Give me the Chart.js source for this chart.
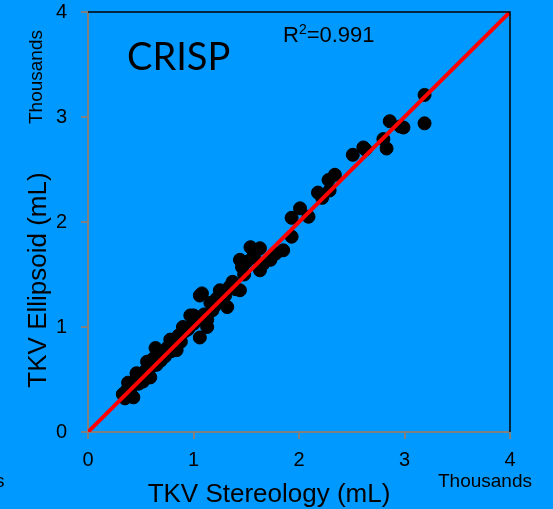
<!DOCTYPE html>
<html>
<head>
<meta charset="utf-8">
<script src="https://cdn.jsdelivr.net/npm/chart.js@4/dist/chart.umd.min.js"></script>
<style>
  html, body { margin: 0; padding: 0; background: #0099ff; }
  #wrap { width: 553px; height: 509px; position: relative; }
</style>
</head>
<body>
<div id="wrap"><canvas id="crispChart" width="553" height="509"></canvas></div>
<script>
// TKV stereology (x) vs TKV ellipsoid (y), in thousands of mL
const stereoX = [0.33, 0.35, 0.37, 0.38, 0.40, 0.42, 0.43, 0.45, 0.46, 0.48, 0.50, 0.52, 0.54, 0.56, 0.57, 0.59,
  0.60, 0.62, 0.64, 0.65, 0.67, 0.69, 0.71, 0.73, 0.75, 0.78, 0.79, 0.82, 0.84, 0.86, 0.88, 0.90, 0.92, 0.95,
  0.97, 1.00, 1.00, 1.03, 1.06, 1.06, 1.08, 1.10, 1.13, 1.13, 1.16, 1.18, 1.20, 1.22, 1.25, 1.27, 1.30, 1.32,
  1.34, 1.37, 1.40, 1.44, 1.44, 1.46, 1.48, 1.50, 1.54, 1.56, 1.58, 1.63, 1.63, 1.66, 1.73, 1.78, 1.85, 1.93,
  1.93, 2.01, 2.09, 2.18, 2.22, 2.28, 2.29, 2.34, 2.51, 2.61, 2.63, 2.80, 2.83, 2.86, 2.96, 2.99, 3.19, 3.19];
const ellipsoidY = [0.36, 0.32, 0.40, 0.47, 0.38, 0.44, 0.33, 0.50, 0.56, 0.46, 0.52, 0.48, 0.58, 0.67, 0.55, 0.52,
  0.62, 0.70, 0.80, 0.64, 0.71, 0.68, 0.76, 0.72, 0.80, 0.88, 0.77, 0.85, 0.78, 0.92, 0.86, 1.00, 0.96, 0.98,
  1.11, 1.03, 1.11, 1.06, 0.90, 1.30, 1.32, 1.12, 1.00, 1.07, 1.23, 1.16, 1.20, 1.27, 1.35, 1.24, 1.30, 1.19,
  1.38, 1.43, 1.36, 1.35, 1.64, 1.57, 1.50, 1.62, 1.76, 1.66, 1.70, 1.75, 1.54, 1.60, 1.64, 1.70, 1.73, 1.86,
  2.04, 2.13, 2.05, 2.28, 2.23, 2.40, 2.30, 2.45, 2.64, 2.71, 2.69, 2.79, 2.70, 2.96, 2.91, 2.90, 3.21, 2.94];

// identity line
const lineX = [0, 4];
const lineY = [0, 4];

const tickLabels = ["0", "1", "2", "3", "4"];
const xTitle = "TKV Stereology (mL)";
const yTitle = "TKV Ellipsoid (mL)";
const unitLabel = "Thousands";
const panelLabel = "CRISP";
const rSquared = "0.991";

const bg = "#0099ff";
const axisGray = "#808080";

const points = stereoX.map((x, i) => ({ x: x, y: ellipsoidY[i] }));
const linePts = lineX.map((x, i) => ({ x: x, y: lineY[i] }));

const decorations = {
  id: "decorations",
  beforeDraw(chart) {
    const ctx = chart.ctx;
    ctx.save();
    ctx.fillStyle = bg;
    ctx.fillRect(0, 0, chart.width, chart.height);
    ctx.restore();
  },
  afterDraw(chart) {
    const ctx = chart.ctx;
    const a = chart.chartArea;
    ctx.save();
    // top and right frame
    ctx.strokeStyle = "#000";
    ctx.lineWidth = 1.5;
    ctx.beginPath();
    ctx.moveTo(a.left, a.top);
    ctx.lineTo(a.right, a.top);
    ctx.lineTo(a.right, a.bottom);
    ctx.stroke();

    ctx.fillStyle = "#000";
    ctx.textBaseline = "alphabetic";

    // panel label
    ctx.font = "38px Lato, 'Liberation Sans', sans-serif";
    ctx.textAlign = "left";
    ctx.fillText(panelLabel, 127, 70);

    // R squared
    ctx.font = "22px 'Liberation Sans', Arial, sans-serif";
    ctx.fillText("R", 283, 42);
    let w = ctx.measureText("R").width;
    ctx.font = "14px 'Liberation Sans', Arial, sans-serif";
    ctx.fillText("2", 283 + w, 34);
    w += ctx.measureText("2").width;
    ctx.font = "22px 'Liberation Sans', Arial, sans-serif";
    ctx.fillText("=" + rSquared, 283 + w, 42);

    // x title
    ctx.font = "26px 'Liberation Sans', Arial, sans-serif";
    ctx.textAlign = "center";
    ctx.fillText(xTitle, 269, 502);

    // unit labels
    ctx.font = "19px 'Liberation Sans', Arial, sans-serif";
    ctx.textAlign = "left";
    ctx.fillText(unitLabel, 438, 487);
    ctx.fillText("s", -5, 487);

    // y title, rotated
    ctx.save();
    ctx.translate(46, 280);
    ctx.rotate(-Math.PI / 2);
    ctx.font = "26px 'Liberation Sans', Arial, sans-serif";
    ctx.textAlign = "center";
    ctx.fillText(yTitle, 0, 0);
    ctx.restore();

    ctx.save();
    ctx.translate(42, 77);
    ctx.rotate(-Math.PI / 2);
    ctx.font = "19px 'Liberation Sans', Arial, sans-serif";
    ctx.textAlign = "center";
    ctx.fillText(unitLabel, 0, 0);
    ctx.restore();

    ctx.restore();
  }
};

const tickFont = { family: "'Liberation Sans', Arial, sans-serif", size: 20 };

new Chart(document.getElementById("crispChart"), {
  type: "scatter",
  data: {
    datasets: [
      {
        type: "line",
        data: linePts,
        borderColor: "#ff0000",
        borderWidth: 4,
        pointRadius: 0,
        fill: false,
        order: 0
      },
      {
        data: points,
        backgroundColor: "#000",
        borderColor: "#000",
        borderWidth: 1,
        pointRadius: 6.5,
        order: 1
      }
    ]
  },
  options: {
    responsive: false,
    animation: false,
    layout: { padding: { top: 12, right: 43, left: 0, bottom: 0 } },
    plugins: { legend: { display: false }, tooltip: { enabled: false } },
    scales: {
      x: {
        type: "linear",
        min: 0,
        max: 4,
        ticks: {
          stepSize: 1,
          color: "#000",
          font: tickFont,
          padding: 9,
          maxRotation: 0,
          callback: v => tickLabels[v]
        },
        grid: { drawOnChartArea: false, drawTicks: true, tickLength: 7, color: axisGray, lineWidth: 2 },
        border: { color: axisGray, width: 2 },
        afterFit: s => { s.height = 77; s.paddingLeft = 0; s.paddingRight = 0; }
      },
      y: {
        type: "linear",
        min: 0,
        max: 4,
        ticks: {
          stepSize: 1,
          color: "#000",
          font: tickFont,
          padding: 14,
          callback: v => tickLabels[v]
        },
        grid: { drawOnChartArea: false, drawTicks: true, tickLength: 7, color: axisGray, lineWidth: 2 },
        border: { color: axisGray, width: 2 },
        afterFit: s => { s.width = 88; s.paddingTop = 0; s.paddingBottom = 0; }
      }
    }
  },
  plugins: [decorations]
});
</script>
</body>
</html>
